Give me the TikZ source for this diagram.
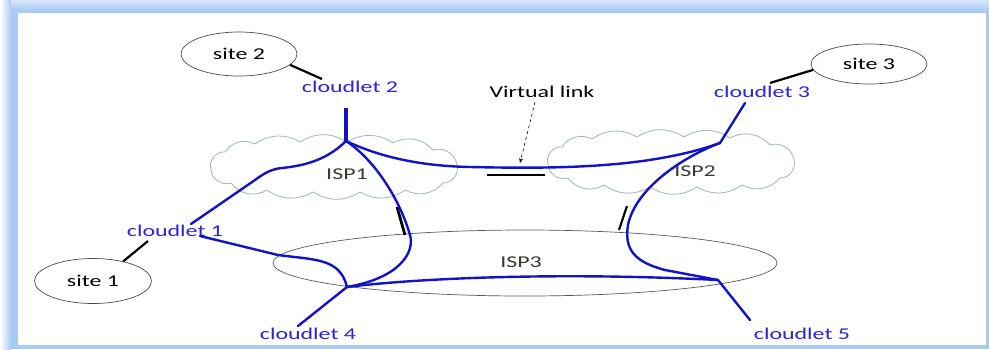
\documentclass[tikz,border=0pt]{standalone}
\usepackage{fontspec}
\setmainfont{Carlito}[FakeStretch=1.45]
\usetikzlibrary{shapes.geometric,arrows.meta}
\definecolor{framebl}{RGB}{169,202,243}
\definecolor{linkblue}{RGB}{18,18,200}
\definecolor{labelblue}{RGB}{45,35,215}
\definecolor{cloudline}{RGB}{160,182,186}
\definecolor{ispgray}{RGB}{60,55,50}
\begin{document}
\begin{tikzpicture}[x=1pt,y=-1pt,
  txt/.style={font=\fontsize{16.5}{19}\selectfont, inner sep=0pt},
  sitebox/.style={ellipse, draw=black!70, line width=0.7pt, inner sep=0pt, txt},
  cloudletlbl/.style={txt, text=labelblue},
  isplbl/.style={txt, text=ispgray},
  puffline/.style={draw=cloudline, line width=0.8pt, line join=round},
  wire/.style={draw=linkblue, line width=2.4pt, line join=round, line cap=round},
  stem/.style={wire, line width=3.4pt, line cap=butt},
  tie/.style={draw=black, line width=2.2pt},
  isp cloud/.pic={
    \draw[puffline] (-124,2) to[bend left=60] (-110,-15) to[bend left=42] (-80,-23)
      to[bend left=32] (-35,-25) to[bend left=32] (12,-25) to[bend left=32] (58,-24)
      to[bend left=38] (98,-17) to[bend left=50] (122,-2) to[bend left=55] (108,16)
      to[bend left=38] (70,23) to[bend left=32] (25,25) to[bend left=32] (-22,25)
      to[bend left=32] (-68,23) to[bend left=42] (-104,16) to[bend left=55] (-124,2) -- cycle;
  },
  ]
\useasboundingbox (0,0) rectangle (989,349);

% frame with soft outer edge
\fill[framebl] (0,0) rectangle (989,349);
\shade[left color=white, right color=framebl] (0,0) rectangle (11,349);
\shade[top color=framebl!45!white, bottom color=framebl] (11,0) rectangle (989,10);
\fill[white] (18,13) rectangle (986,345);

% provider clouds and the ISP3 domain
\pic (cloud1) at (335,167) {isp cloud};
\pic (cloud2) at (672,162) {isp cloud};
\node[ellipse, draw=black!65, line width=0.7pt, minimum width=504pt, minimum height=66pt, inner sep=0pt] (isp3) at (525,263) {};
\node[isplbl] (isp1lbl) at (347,174) {ISP1};
\node[isplbl] (isp2lbl) at (695,171) {ISP2};
\node[isplbl] (isp3lbl) at (521,262) {ISP3};

% sites
\node[sitebox, minimum width=116pt, minimum height=44pt] (site2) at (239,54) {site 2};
\node[sitebox, minimum width=116pt, minimum height=40pt] (site3) at (869,64) {site 3};
\node[sitebox, minimum width=117pt, minimum height=45pt] (site1) at (93,281) {site 1};

% cloudlet labels
\node[cloudletlbl] (cl1) at (175,231) {cloudlet 1};
\node[cloudletlbl] (cl2) at (350,87) {cloudlet 2};
\node[cloudletlbl] (cl3) at (762,92) {cloudlet 3};
\node[cloudletlbl] (cl4) at (308,334) {cloudlet 4};
\node[cloudletlbl] (cl5) at (802,334) {cloudlet 5};
\node[txt] (vl) at (542,92) {Virtual link};

% branch points and wire ends
\coordinate (hubA) at (346,141);
\coordinate (hubB) at (720,143);
\coordinate (hubC) at (347,287);
\coordinate (hubD) at (718,280);
\coordinate (cl2foot) at (346,108);
\coordinate (cl3foot) at (745,103);
\coordinate (cl1top) at (191,224);
\coordinate (cl1side) at (200,236);
\coordinate (cl4top) at (298,326);
\coordinate (cl5top) at (750,320);
\coordinate (s2end) at (322,79);
\coordinate (s3end) at (770,83);
\coordinate (s1end) at (148,241);
\coordinate (vlarrow) at (520,163);

% site attachments
\draw[tie] (site2.-12) -- (s2end);
\draw[tie] (site3.186) -- (s3end);
\draw[tie] (site1.33) -- (s1end);

% virtual link marker
\draw[dashed, line width=0.6pt, -{Stealth[length=5pt,width=4pt]}] ([xshift=-7pt]vl.south) ++(0,4) -- (vlarrow);
\coordinate (vbarL) at (487,175);
\coordinate (vbarR) at (545,175);
\draw[tie] (vbarL) -- (vbarR);

% peering markers
\coordinate (pA1) at (397,207);
\coordinate (pA2) at (405,235);
\coordinate (pB1) at (627,206);
\coordinate (pB2) at (619,230);
\draw[tie, line width=2.8pt] (pA1) -- (pA2);
\draw[tie] (pB1) -- (pB2);

% blue wires
\draw[stem] (cl2foot) -- (hubA);
\draw[wire] (hubA) .. controls (325,162) and (300,166) .. (282,168)
  .. controls (270,169) and (262,175) .. (255,180) -- (cl1top);
\draw[wire] (hubA) .. controls (380,157) and (420,166) .. (470,167)
  .. controls (560,169) and (650,168) .. (hubB) -- (cl3foot);
\draw[wire] (hubA) .. controls (375,160) and (400,200) .. (410,235)
  .. controls (415,252) and (400,278) .. (hubC);
\draw[wire] (hubB) .. controls (680,158) and (635,190) .. (628,225)
  .. controls (624,250) and (635,262) .. (665,270) -- (hubD);
\draw[wire] (cl1side) -- (278,255) .. controls (315,260) and (340,258) .. (hubC);
\draw[wire] (hubC) .. controls (420,278) and (560,272) .. (hubD);
\draw[wire] (hubC) -- (cl4top);
\draw[wire] (hubD) -- (cl5top);
\end{tikzpicture}
\end{document}
